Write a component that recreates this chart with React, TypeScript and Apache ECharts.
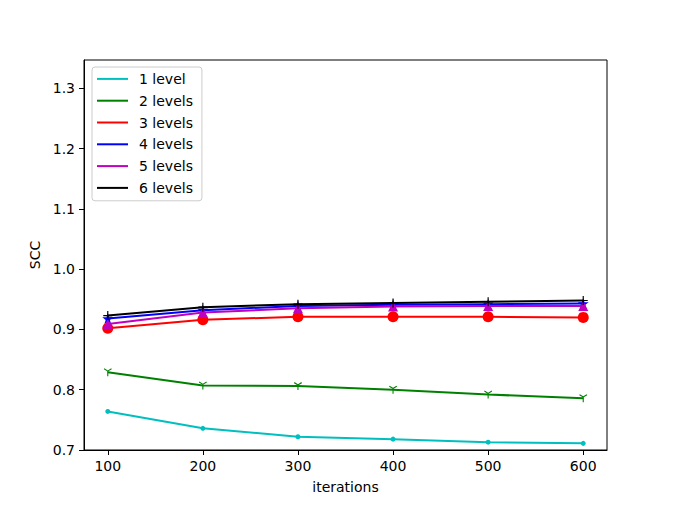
import React, { useEffect, useRef } from "react";
import * as echarts from "echarts";

const iterations = [100, 200, 300, 400, 500, 600];
const seriesNames = ["1 level", "2 levels", "3 levels", "4 levels", "5 levels", "6 levels"];
const level1 = [0.764, 0.736, 0.722, 0.718, 0.713, 0.711];
const level2 = [0.829, 0.807, 0.806, 0.8, 0.792, 0.786];
const level3 = [0.902, 0.916, 0.921, 0.921, 0.921, 0.92];
const level4 = [0.918, 0.932, 0.939, 0.941, 0.942, 0.943];
const level5 = [0.909, 0.928, 0.935, 0.938, 0.939, 0.939];
const level6 = [0.923, 0.937, 0.942, 0.944, 0.946, 0.948];
const yTicks = [0.7, 0.8, 0.9, 1.0, 1.1, 1.2, 1.3];
const xTicks = [100, 200, 300, 400, 500, 600];

const colors = ["#00bfbf", "#008000", "#ff0000", "#0000ff", "#bf00bf", "#000000"];

const STAR =
  "path://M0,-1 L0.2245,-0.309 L0.951,-0.309 L0.363,0.118 L0.588,0.809 L0,0.382 L-0.588,0.809 L-0.363,0.118 L-0.951,-0.309 L-0.2245,-0.309 Z";
const PLUS = "path://M-0.13,-1 H0.13 V-0.13 H1 V0.13 H0.13 V1 H-0.13 V0.13 H-1 V-0.13 H-0.13 Z";
const TRI_DOWN =
  "path://M-0.13,0 L-0.13,1 L0.13,1 L0.13,0 L0.95,-0.42 L0.82,-0.64 L0,-0.2 L-0.82,-0.64 L-0.95,-0.42 Z";

export default function App() {
  const ref = useRef<HTMLDivElement>(null);
  useEffect(() => {
    if (!ref.current) return;
    const chart = echarts.init(ref.current, null, { renderer: "svg" });
    const values = [level1, level2, level3, level4, level5, level6];
    const symbols = ["circle", TRI_DOWN, "circle", STAR, "triangle", PLUS];
    const sizes = [5, 8, 11, 11, 10, 9];
    const font = "DejaVu Sans";
    const series = values.map((v, i) => ({
      name: seriesNames[i],
      type: "line",
      data: iterations.map((x, j) => [x, v[j]]),
      symbol: symbols[i],
      symbolSize: sizes[i],
      showSymbol: true,
      lineStyle: { color: colors[i], width: 2 },
      itemStyle: { color: colors[i], borderWidth: 0 },
      z: 2 + i,
      emphasis: { disabled: true },
    }));
    chart.setOption({
      animation: false,
      color: colors,
      grid: {
        left: 84,
        top: 60,
        right: 68,
        bottom: 56,
        show: true,
        borderColor: "#000",
        borderWidth: 1,
        backgroundColor: "transparent",
      },
      legend: {
        left: 92,
        top: 67,
        orient: "vertical",
        data: seriesNames.map((n) => ({ name: n, icon: "rect" })),
        itemWidth: 31,
        itemHeight: 2,
        itemGap: 0,
        padding: [1, 9, 2, 5],
        borderColor: "#cccccc",
        borderWidth: 1,
        borderRadius: 3,
        backgroundColor: "rgba(255,255,255,0.8)",
        textStyle: {
          fontFamily: font,
          fontSize: 14,
          color: "#000",
          lineHeight: 21.8,
          padding: [0, 0, 0, 6],
        },
      },
      xAxis: {
        type: "value",
        min: 75,
        max: 625,
        name: "iterations",
        nameLocation: "middle",
        nameGap: 30,
        nameTextStyle: { fontFamily: font, fontSize: 14, color: "#000" },
        splitLine: { show: false },
        axisLine: { show: true, onZero: false, lineStyle: { color: "#000", width: 1 } },
        axisTick: {
          show: true,
          length: 5,
          lineStyle: { color: "#000", width: 1 },
          customValues: xTicks,
        },
        axisLabel: {
          fontFamily: font,
          fontSize: 14,
          color: "#000",
          margin: 9,
          customValues: xTicks,
          formatter: (v: number) => String(v),
        },
      },
      yAxis: {
        type: "value",
        min: 0.7,
        max: 1.347,
        name: "SCC",
        nameLocation: "middle",
        nameGap: 41,
        nameRotate: 90,
        nameTextStyle: { fontFamily: font, fontSize: 14, color: "#000" },
        splitLine: { show: false },
        axisLine: { show: true, onZero: false, lineStyle: { color: "#000", width: 1 } },
        axisTick: {
          show: true,
          length: 5,
          lineStyle: { color: "#000", width: 1 },
          customValues: yTicks,
        },
        axisLabel: {
          fontFamily: font,
          fontSize: 14,
          color: "#000",
          margin: 9,
          customValues: yTicks,
          formatter: (v: number) => v.toFixed(1),
        },
      },
      series,
    });
    return () => chart.dispose();
  }, []);
  return <div ref={ref} style={{ width: 675, height: 506, position: "absolute", left: 0, top: 0 }} />;
}
